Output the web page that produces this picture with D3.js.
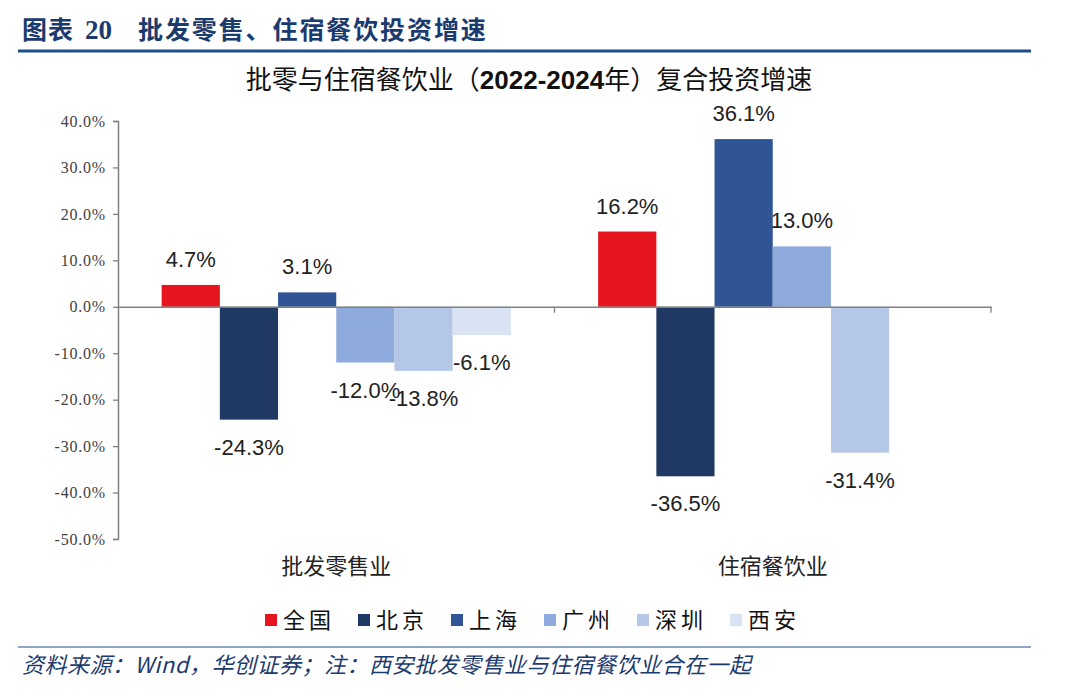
<!DOCTYPE html>
<html>
<head>
<meta charset="utf-8">
<script src="https://cdn.jsdelivr.net/npm/d3@7/dist/d3.min.js"></script>
<style>
  html, body { margin: 0; padding: 0; background: #fff; }
  svg { display: block; }
</style>
</head>
<body>
<svg id="chart" width="1080" height="699"></svg>
<script>
const categories = ["批发零售业", "住宿餐饮业"];
const series = ["全国", "北京", "上海", "广州", "深圳", "西安"];
const colors = ["#E5141E", "#203864", "#2F5597", "#8FAADC", "#B4C7E7", "#DAE3F3"];
const valuesRetail = [4.7, -24.3, 3.1, -12.0, -13.8, -6.1];
const valuesHotel = [16.2, -36.5, 36.1, 13.0, -31.4, null];
const yTicks = [40, 30, 20, 10, 0, -10, -20, -30, -40, -50];

const headerText = "批发零售、住宿餐饮投资增速";
const titleParts = ["批零与住宿餐饮业（", "2022-2024", "年）复合投资增速"];
const footerText = "资料来源：Wind，华创证券；注：西安批发零售业与住宿餐饮业合在一起";

const svg = d3.select("#chart");
const CJK = "'Noto Sans CJK SC', 'Noto Sans', sans-serif";
const dark = "#1B3A6E";

// Header
svg.append("text").attr("x", 22).attr("y", 39)
  .attr("font-family", CJK).attr("font-weight", "bold").attr("font-size", 25)
  .attr("letter-spacing", 1).attr("fill", dark).text("图表");
svg.append("text").attr("x", 85).attr("y", 39)
  .attr("font-family", "'Liberation Serif', serif").attr("font-weight", "bold").attr("font-size", 27)
  .attr("fill", dark).text("20");
svg.append("text").attr("x", 138).attr("y", 39)
  .attr("font-family", CJK).attr("font-weight", "bold").attr("font-size", 25)
  .attr("letter-spacing", 1.9).attr("fill", dark).text(headerText);
svg.append("line").attr("x1", 18).attr("x2", 1031).attr("y1", 51).attr("y2", 51)
  .attr("stroke", "#1F4E8C").attr("stroke-width", 3);

// Title
const title = svg.append("text").attr("x", 529).attr("y", 89).attr("text-anchor", "middle")
  .attr("font-family", CJK).attr("font-size", 26).attr("fill", "#111");
title.append("tspan").text(titleParts[0]);
title.append("tspan").attr("font-weight", "bold").attr("font-family", "'Liberation Sans', " + CJK).text(titleParts[1]);
title.append("tspan").text(titleParts[2]);

// Scales
const x0 = d3.scaleBand().domain(categories).range([118, 991]).paddingInner(0).paddingOuter(0);
const bw = x0.bandwidth();
const pad = bw * 0.1;
const x1 = d3.scaleBand().domain(series).range([pad, bw - pad]);
const y = d3.scaleLinear().domain([-50, 40]).range([539, 121]);

// Y axis
const yAxis = d3.axisLeft(y).tickValues(yTicks).tickSize(5).tickFormat(d => d.toFixed(1) + "%");
const gy = svg.append("g").attr("transform", "translate(118,0)").call(yAxis);
gy.select(".domain").attr("stroke", "#808080").attr("stroke-width", 1.5);
gy.selectAll(".tick line").attr("stroke", "#808080").attr("stroke-width", 1.3);
gy.selectAll(".tick text")
  .attr("font-family", "'Liberation Serif', 'Times New Roman', serif")
  .attr("font-size", 16).attr("letter-spacing", 0.8).attr("fill", "#404040").attr("x", -12);

// Bars
const data = [];
categories.forEach((c, ci) => {
  const vals = ci === 0 ? valuesRetail : valuesHotel;
  series.forEach((s, si) => {
    if (vals[si] !== null) data.push({ cat: c, ser: s, v: vals[si], color: colors[si] });
  });
});

svg.append("g").selectAll("rect").data(data).join("rect")
  .attr("x", d => x0(d.cat) + x1(d.ser))
  .attr("width", x1.bandwidth())
  .attr("y", d => y(Math.max(0, d.v)))
  .attr("height", d => Math.abs(y(d.v) - y(0)))
  .attr("fill", d => d.color);

// Zero line (category axis)
const xAxis = d3.axisBottom(x0).tickSize(0).tickFormat("");
const gx = svg.append("g").attr("transform", `translate(0,${y(0)})`).call(xAxis);
gx.select(".domain").attr("stroke", "#808080").attr("stroke-width", 1.5);
const bounds = [118, x0(categories[1]), 991];
svg.append("g").selectAll("line").data(bounds.slice(1)).join("line")
  .attr("x1", d => d).attr("x2", d => d)
  .attr("y1", y(0)).attr("y2", y(0) + 6)
  .attr("stroke", "#808080").attr("stroke-width", 1.3);

// Value labels
svg.append("g").selectAll("text").data(data).join("text")
  .attr("x", d => x0(d.cat) + x1(d.ser) + x1.bandwidth() / 2)
  .attr("y", d => d.v >= 0 ? y(d.v) - 18 : y(d.v) + 35)
  .attr("text-anchor", "middle")
  .attr("font-family", "'Liberation Sans', Arial, sans-serif")
  .attr("font-size", 22).attr("fill", "#222")
  .text(d => d.v.toFixed(1) + "%");

// Category labels
svg.append("g").selectAll("text").data(categories).join("text")
  .attr("x", d => x0(d) + bw / 2)
  .attr("y", 574)
  .attr("text-anchor", "middle")
  .attr("font-family", CJK).attr("font-size", 22).attr("fill", "#222")
  .text(d => d);

// Legend
const legendX = d3.scalePoint().domain(series).range([265, 730]);
const lg = svg.append("g").selectAll("g").data(series).join("g")
  .attr("transform", d => `translate(${legendX(d)},620)`);
lg.append("rect").attr("x", 0).attr("y", -6).attr("width", 12).attr("height", 12)
  .attr("fill", (d, i) => colors[i]);
lg.append("text").attr("x", 18).attr("y", 8)
  .attr("font-family", CJK).attr("font-size", 22).attr("letter-spacing", 4).attr("fill", "#111")
  .text(d => d);

// Footer
svg.append("line").attr("x1", 18).attr("x2", 1031).attr("y1", 647).attr("y2", 647)
  .attr("stroke", "#1F4E8C").attr("stroke-width", 1.2);
svg.append("text").attr("x", 22).attr("y", 673)
  .attr("font-family", CJK).attr("font-style", "italic").attr("font-size", 22)
  .attr("letter-spacing", 0.5).attr("fill", dark).text(footerText);
</script>
</body>
</html>
